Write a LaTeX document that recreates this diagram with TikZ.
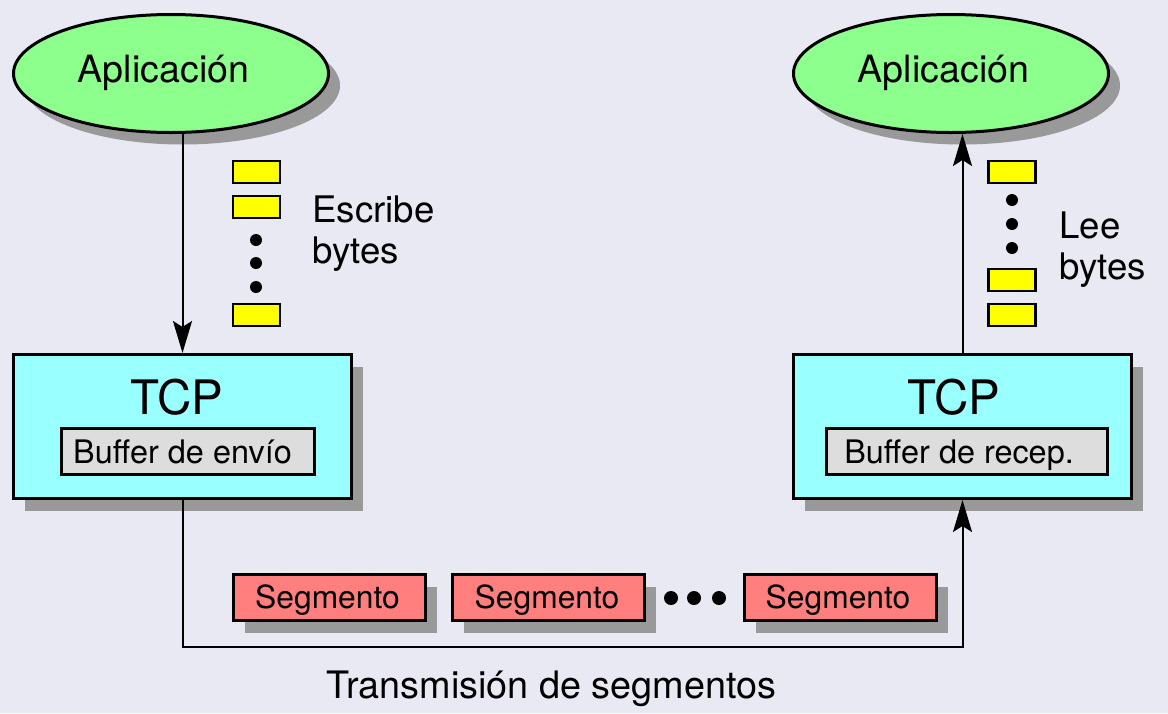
\documentclass[tikz,border=0pt]{standalone}
\usepackage{fontspec}
\setmainfont{TeX Gyre Heros}
\usetikzlibrary{shapes.geometric,shadows,arrows.meta}
\definecolor{bgcol}{RGB}{233,233,243}
\definecolor{appgreen}{RGB}{140,255,140}
\definecolor{tcpcyan}{RGB}{153,255,255}
\definecolor{bufgray}{RGB}{221,221,221}
\definecolor{segred}{RGB}{255,127,127}
\definecolor{shadowgray}{RGB}{153,153,153}
\definecolor{byteyellow}{RGB}{255,255,0}
\tikzset{
  shad/.style={drop shadow={shadow xshift=5.75pt,shadow yshift=-6pt,fill=shadowgray,opacity=1}},
  appnode/.style={ellipse,draw=black,line width=1.5pt,fill=appgreen,minimum width=157.5pt,minimum height=59pt,inner sep=0pt,shad},
  tcpbox/.style={rectangle,draw=black,line width=1.5pt,fill=tcpcyan,minimum width=169pt,minimum height=72pt,inner sep=0pt,shad},
  bufbox/.style={rectangle,draw=black,line width=1.5pt,fill=bufgray,minimum height=23pt,inner sep=0pt},
  segbox/.style={rectangle,draw=black,line width=1.5pt,fill=segred,minimum width=96pt,minimum height=23pt,inner sep=0pt,shad},
  bytebox/.style={rectangle,draw=black,line width=1.1pt,fill=byteyellow,minimum width=23.5pt,minimum height=11pt,inner sep=0pt},
  bdot/.style={circle,fill=black,minimum size=6pt,inner sep=0pt},
  txt/.style={inner sep=0pt,anchor=base},
  conn/.style={line width=1pt,draw=black},
  arr/.style={conn,-{Stealth[length=16pt,width=9.5pt,inset=3pt]}}
}
\begin{document}
\begin{tikzpicture}[x=0.5pt,y=-0.5pt]
\useasboundingbox[fill=bgcol] (0,0) rectangle (1168,713);
% applications
\node[appnode] (aL) at (171,73.5) {};
\node[appnode] (aR) at (951,73.5) {};
\node[txt,font=\fontsize{18.8pt}{22pt}\selectfont] (aLt) at (163.5,82) {Aplicación};
\node[txt,font=\fontsize{18.8pt}{22pt}\selectfont] (aRt) at (943.5,82) {Aplicación};
% TCP boxes
\node[tcpbox] (tL) at (182.5,426.5) {};
\node[tcpbox] (tR) at (962.5,426.5) {};
\node[txt,font=\fontsize{23.75pt}{28pt}\selectfont] (tLt) at (177,414) {TCP};
\node[txt,font=\fontsize{23.75pt}{28pt}\selectfont] (tRt) at (954,414) {TCP};
\node[bufbox,minimum width=126.5pt] (bL) at (188,451.5) {};
\node[bufbox,minimum width=140.5pt] (bR) at (967,451.5) {};
\node[txt,font=\fontsize{16.2pt}{19pt}\selectfont] (bLt) at (182.5,463) {Buffer de envío};
\node[txt,font=\fontsize{16.2pt}{19pt}\selectfont] (bRt) at (959,463) {Buffer de recep.};
% left bytes
\node[bytebox] (y1) at (256.5,172) {};
\node[bytebox] (y2) at (256.5,207) {};
\node[bdot] (d1) at (256,240) {};
\node[bdot] (d2) at (256,263) {};
\node[bdot] (d3) at (256,287) {};
\node[bytebox] (y3) at (256.5,315) {};
\node[txt,anchor=base west,font=\fontsize{18.3pt}{22pt}\selectfont] (esc1) at (312,222) {Escribe};
\node[txt,anchor=base west,font=\fontsize{18.3pt}{22pt}\selectfont] (esc2) at (312,263) {bytes};
% right bytes
\node[bytebox] (z1) at (1012,172) {};
\node[bdot] (e1) at (1012,200) {};
\node[bdot] (e2) at (1012,224) {};
\node[bdot] (e3) at (1012,248) {};
\node[bytebox] (z2) at (1012,280) {};
\node[bytebox] (z3) at (1012,315) {};
\node[txt,anchor=base west,font=\fontsize{18.3pt}{22pt}\selectfont] (lee1) at (1059,238) {Lee};
\node[txt,anchor=base west,font=\fontsize{18.3pt}{22pt}\selectfont] (lee2) at (1059,279) {bytes};
% segments
\node[segbox] (s1) at (329.5,597.5) {};
\node[segbox] (s2) at (548.5,597.5) {};
\node[segbox] (s3) at (840,597.5) {};
\node[txt,font=\fontsize{15.9pt}{19pt}\selectfont] (s1t) at (327.5,608) {Segmento};
\node[txt,font=\fontsize{15.9pt}{19pt}\selectfont] (s2t) at (547,608) {Segmento};
\node[txt,font=\fontsize{15.9pt}{19pt}\selectfont] (s3t) at (838,608) {Segmento};
\node[bdot,minimum size=7pt] (f1) at (671,598) {};
\node[bdot,minimum size=7pt] (f2) at (694,598) {};
\node[bdot,minimum size=7pt] (f3) at (719,598) {};
\node[txt,font=\fontsize{18.9pt}{22pt}\selectfont] (trans) at (551.5,698) {Transmisión de segmentos};
% connectors
\coordinate (bl) at (182.5,647);
\coordinate (br) at (962.5,647);
\draw[arr] (tL.north |- aL.south) -- (tL.north);
\draw[arr] (tR.north) -- (tR.north |- aR.south);
\draw[arr] (tL.south) -- (bl) -- (br) -- (tR.south);
\end{tikzpicture}
\end{document}
